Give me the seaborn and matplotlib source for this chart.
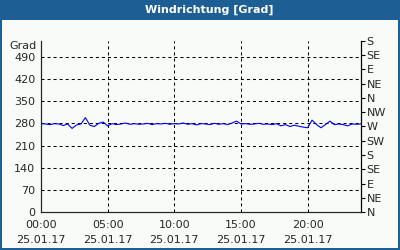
import matplotlib
matplotlib.use("Agg")
import matplotlib.pyplot as plt
from matplotlib.patches import Rectangle
import seaborn as sns
import numpy as np
import pandas as pd

# --- data (hours since 25.01.17 00:00, wind direction in degrees) ---
hours = [0, 0.33, 0.67, 1.0, 1.33, 1.67, 2.0, 2.33, 2.67, 3.0, 3.33, 3.67, 4.0, 4.33, 4.67,
         5.0, 5.33, 5.67, 6.0, 6.33, 6.67, 7.0, 7.33, 7.67, 8.0, 8.33, 8.67, 9.0, 9.33, 9.67,
         10.0, 10.33, 10.67, 11.0, 11.33, 11.67, 12.0, 12.33, 12.67, 13.0, 13.33, 13.67,
         14.0, 14.33, 14.67, 15.0, 15.33, 15.67, 16.0, 16.33, 16.67, 17.0, 17.33, 17.67,
         18.0, 18.33, 18.67, 19.0, 19.33, 19.67, 20.0, 20.33, 20.67, 21.0, 21.33, 21.67,
         22.0, 22.33, 22.67, 23.0, 23.33, 23.67, 24.0]
direction = [279, 278, 276, 279, 278, 273, 278, 264, 275, 278, 298, 274, 270, 280, 284,
             272, 279, 276, 278, 281, 277, 279, 277, 278, 280, 276, 279, 278, 280, 277,
             279, 278, 281, 277, 279, 275, 279, 278, 276, 280, 277, 279,
             276, 281, 287, 278, 279, 277, 278, 280, 277, 278, 276, 279,
             272, 276, 270, 274, 271, 268, 266, 290, 276, 266, 276, 287,
             276, 278, 276, 272, 278, 277, 278]

y_ticks = [0, 70, 140, 210, 280, 350, 420, 490]
x_major = [0, 5, 10, 15, 20]
x_labels = ["00:00\n25.01.17", "05:00\n25.01.17", "10:00\n25.01.17",
            "15:00\n25.01.17", "20:00\n25.01.17"]
compass_pos = [0, 45, 90, 135, 180, 225, 270, 315, 360, 405, 450, 495, 540]
compass_lab = ["N", "NE", "E", "SE", "S", "SW", "W", "NW", "N", "NE", "E", "SE", "S"]
title = "Windrichtung [Grad]"

df = pd.DataFrame({"h": hours, "deg": direction})

sns.set_style("white")
plt.rcParams["font.family"] = ["DejaVu Sans"]
FS = 8

fig = plt.figure(figsize=(4, 2.5), dpi=100)
fig.patch.set_facecolor("#1d5f95")
fig.add_artist(Rectangle((2 / 400, 2 / 250), 396 / 400, 228 / 250,
                         transform=fig.transFigure, facecolor="#f8fbf8",
                         edgecolor="none", zorder=0))
fig.text(209 / 400, 1 - 10 / 250, title, color="white", fontweight="bold",
         ha="center", va="center", fontsize=8)

ax = fig.add_axes([41 / 400, 38 / 250, 320 / 400, (212 - 41) / 250])
ax.set_facecolor("none")
sns.lineplot(data=df, x="h", y="deg", ax=ax, color="#0000ee", linewidth=0.8)

ax.set_xlim(0, 24)
ax.set_ylim(0, 540)
ax.set_xlabel("")
ax.set_ylabel("")
ax.set_yticks(y_ticks)
ax.set_yticklabels([str(v) for v in y_ticks], fontsize=FS)
ax.set_xticks(x_major)
ax.set_xticklabels(x_labels, fontsize=FS, linespacing=1.6)
ax.set_xticks(range(0, 25), minor=True)
ax.tick_params(axis="x", which="minor", direction="in", length=3, width=0.8, color="black")
ax.tick_params(axis="x", which="major", direction="in", length=3, width=0.8, color="black", pad=6)
ax.tick_params(axis="y", which="major", direction="out", length=0, pad=4)

for v in y_ticks[1:]:
    ax.axhline(v, color="black", linewidth=0.75, linestyle=(0, (2.9, 2.9)), zorder=1)
for v in x_major[1:]:
    ax.axvline(v, color="black", linewidth=0.75, linestyle=(0, (2.9, 2.9)), zorder=1)

ax.spines["top"].set_visible(False)
for s in ["left", "bottom", "right"]:
    ax.spines[s].set_color("black")
    ax.spines[s].set_linewidth(0.8)

ax.text(-4 / 320, 1.0, "Grad", transform=ax.transAxes, ha="right",
        va="top", fontsize=FS)

ax2 = ax.twinx()
ax2.set_ylim(0, 540)
ax2.set_yticks(compass_pos)
ax2.set_yticklabels(compass_lab, fontsize=FS)
ax2.tick_params(axis="y", direction="out", length=3, width=0.8, color="black", pad=1)
ax2.spines["top"].set_visible(False)
ax2.spines["right"].set_color("black")
ax2.spines["right"].set_linewidth(0.8)
ax2.grid(False)

fig.savefig("out.png", dpi=100, facecolor=fig.get_facecolor())
